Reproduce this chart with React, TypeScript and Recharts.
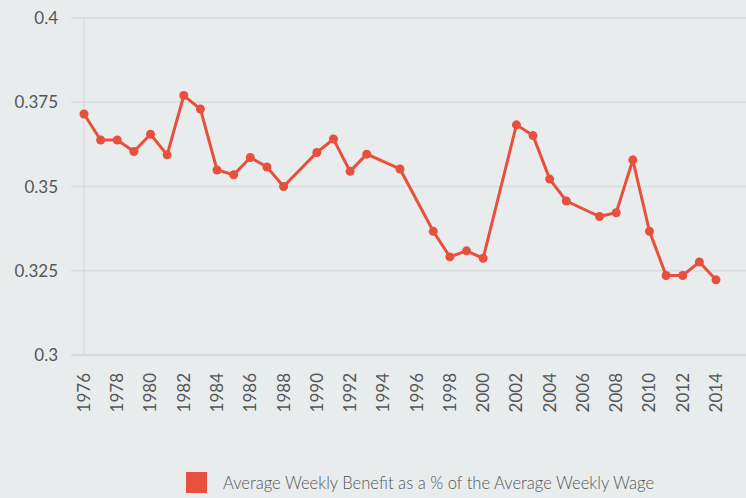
import { LineChart, Line, XAxis, YAxis, CartesianGrid, Legend, ReferenceLine } from "recharts"

const years = [
  1976, 1977, 1978, 1979, 1980, 1981, 1982, 1983, 1984, 1985, 1986, 1987, 1988,
  1990, 1991, 1992, 1993, 1995, 1997, 1998, 1999, 2000, 2002, 2003, 2004, 2005,
  2007, 2008, 2009, 2010, 2011, 2012, 2013, 2014,
]

const benefitShare = [
  0.3715, 0.3638, 0.3638, 0.3604, 0.3655, 0.3594, 0.377, 0.373, 0.3549, 0.3535, 0.3586, 0.3558, 0.35,
  0.3601, 0.3641, 0.3545, 0.3596, 0.3552, 0.3367, 0.3291, 0.3309, 0.3287, 0.3683, 0.3651, 0.3522, 0.3457,
  0.3411, 0.3422, 0.3579, 0.3367, 0.3236, 0.3236, 0.3276, 0.3223,
]

const xTicks = [1976, 1978, 1980, 1982, 1984, 1986, 1988, 1990, 1992, 1994, 1996, 1998, 2000, 2002, 2004, 2006, 2008, 2010, 2012, 2014]
const yTicks = [0.3, 0.325, 0.35, 0.375, 0.4]

const seriesName = "Average Weekly Benefit as a % of the Average Weekly Wage"

const data = years.map((year, i) => ({ year, value: benefitShare[i] }))

const LINE_COLOR = "#e8503e"
const GRID_COLOR = "#d9dcde"
const TEXT_COLOR = "#555658"
const FONT = "Lato, 'Open Sans', sans-serif"

function YearTick({ x, y, payload }: any) {
  return (
    <text
      transform={`translate(${x}, ${y + 10}) rotate(-90)`}
      textAnchor="end"
      dy="0.35em"
      fontSize={17}
      fill={TEXT_COLOR}
      fontFamily={FONT}
    >
      {payload.value}
    </text>
  )
}

function LegendContent() {
  return (
    <div style={{ display: "flex", alignItems: "center", height: 26, paddingLeft: 186, boxSizing: "border-box", paddingBottom: 5 }}>
      <span style={{ width: 21, height: 21, background: LINE_COLOR, display: "inline-block" }} />
      <span style={{ marginLeft: 16, fontSize: 16.6, color: TEXT_COLOR, fontFamily: FONT, fontWeight: 300 }}>{seriesName}</span>
    </div>
  )
}

export default function App() {
  return (
    <div style={{ position: "absolute", left: 0, top: 0, width: 746, height: 498, background: "#e9eced" }}>
      <LineChart width={746} height={498} data={data} margin={{ top: 18, right: 0, bottom: 0, left: 0 }}>
        <CartesianGrid horizontal vertical={false} stroke={GRID_COLOR} strokeWidth={1.5} />
        <XAxis
          dataKey="year"
          type="number"
          domain={[1976, 2014]}
          ticks={xTicks}
          interval={0}
          padding={{ left: 13, right: 30 }}
          height={117}
          tickLine={false}
          axisLine={{ stroke: GRID_COLOR, strokeWidth: 2.5 }}
          tick={<YearTick />}
        />
        <YAxis
          type="number"
          domain={[0.3, 0.4]}
          ticks={yTicks}
          width={71}
          axisLine={false}
          tickLine={false}
          tickMargin={7}
          tick={{ fontSize: 17, fill: TEXT_COLOR, fontFamily: FONT }}
        />
        <ReferenceLine x={1976} stroke="#d3d6d8" strokeWidth={1} />
        <Legend verticalAlign="bottom" content={<LegendContent />} />
        <Line
          type="linear"
          dataKey="value"
          name={seriesName}
          stroke={LINE_COLOR}
          strokeWidth={3}
          dot={{ r: 4.5, fill: LINE_COLOR, stroke: "none" }}
          isAnimationActive={false}
        />
      </LineChart>
    </div>
  )
}
